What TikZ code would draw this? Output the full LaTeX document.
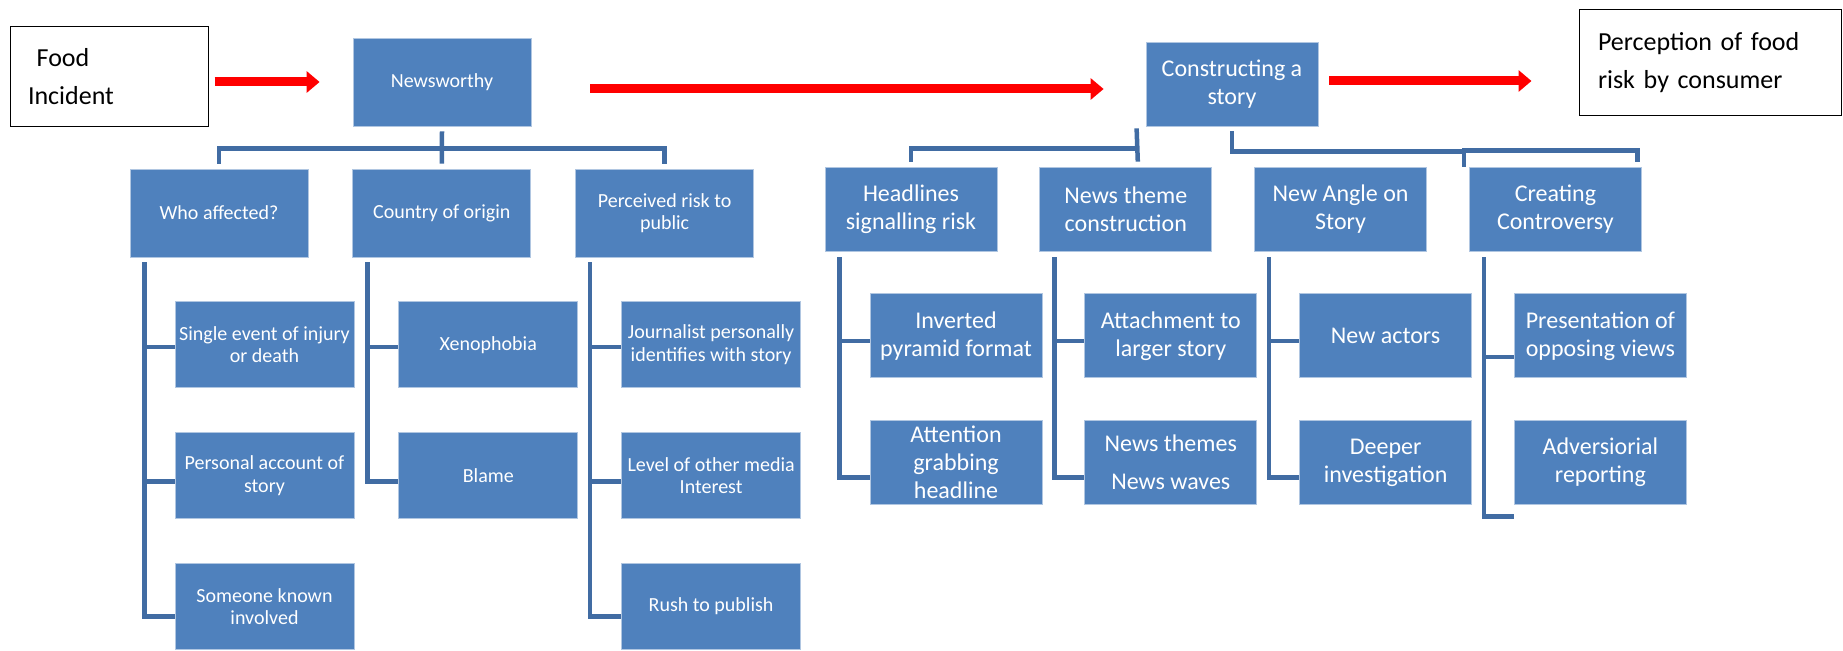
\documentclass[tikz,border=0pt]{standalone}
\usepackage{fontspec}
\setmainfont{Carlito}
\usetikzlibrary{positioning,arrows.meta}
\definecolor{blu}{RGB}{79,129,189}
\definecolor{lnk}{RGB}{65,108,163}

\begin{document}
\begin{tikzpicture}[x=1pt, y=-1pt,
		bx/.style={draw=blu!45!white, line width=0.8pt, fill=blu, text=white, inner sep=0pt, align=center},
		lt/.style={bx, minimum width=178pt, minimum height=88pt, font=\fontsize{20}{22.5}\selectfont},
		ls/.style={lt, minimum width=179pt, minimum height=86pt},
		rt/.style={bx, minimum width=172pt, minimum height=84pt, font=\fontsize{24}{28}\selectfont},
		tx/.style={draw, line width=1pt, inner ysep=0pt, align=left, font=\fontsize{26}{38}\selectfont},
		ln/.style={draw=lnk, line width=4.5pt},
		ra/.style={draw=red, line width=9pt, -{Triangle[length=13pt, width=21pt]}}]
		\useasboundingbox (0,0) rectangle (1843,650);

		\node[tx, inner xsep=18pt, text width=162pt, minimum height=100pt] (food) at (109,77) {\ Food\\Incident};
		\node[tx, inner xsep=19pt, text width=224pt, minimum height=106pt] (perc) at (1710,63) {Perception of food\\risk by consumer};

		\node[lt] (news) at (442,82) {Newsworthy};
		\node[rt] (cons) at (1232,84) {Constructing a\\story};

		\node[lt] (who) at (219,213) {Who affected?};
		\node[lt, right=44pt of who] (cty) {Country of origin};
		\node[lt, right=44pt of cty] (per) {Perceived risk to\\public};

		\node[ls, anchor=north west] (inj) at ([xshift=45pt, yshift=-44pt]who.south west) {Single event of injury\\or death};
		\node[ls, below=44pt of inj] (acc) {Personal account of\\story};
		\node[ls, below=44pt of acc] (knw) {Someone known\\involved};
		\node[ls, anchor=north west] (xen) at ([xshift=46pt, yshift=-44pt]cty.south west) {Xenophobia};
		\node[ls, below=44pt of xen] (blm) {Blame};
		\node[ls, anchor=north west] (jrn) at ([xshift=46pt, yshift=-44pt]per.south west) {Journalist personally\\identifies with story};
		\node[ls, below=44pt of jrn] (lvl) {Level of other media\\Interest};
		\node[ls, below=44pt of lvl] (rsh) {Rush to publish};

		\node[rt] (hl) at (911,209) {Headlines\\signalling risk};
		\node[rt, right=42pt of hl] (nth) {News theme\\construction};
		\node[rt, right=42pt of nth] (ang) {New Angle on\\Story};
		\node[rt, right=42pt of ang] (cc) {Creating\\Controversy};

		\node[rt, anchor=north west] (inv) at ([xshift=45pt, yshift=-42pt]hl.south west) {Inverted\\pyramid format};
		\node[rt, below=42pt of inv] (att) {Attention\\grabbing\\headline};
		\node[rt, anchor=north west] (lrg) at ([xshift=45pt, yshift=-42pt]nth.south west) {Attachment to\\larger story};
		\node[rt, below=42pt of lrg] (wav) {News themes\\[10pt]News waves};
		\node[rt, anchor=north west] (act) at ([xshift=45pt, yshift=-42pt]ang.south west) {New actors};
		\node[rt, below=42pt of act] (dpr) {Deeper\\investigation};
		\node[rt, anchor=north west] (opp) at ([xshift=45pt, yshift=-42pt]cc.south west) {Presentation of\\opposing views};
		\node[rt, below=42pt of opp] (adv) {Adversiorial\\reporting};

		\draw[ra, shorten <=6pt, shorten >=33pt] ([yshift=-5pt]food.east) -- (news.west);
		\draw[ra, shorten <=59pt, shorten >=42pt] ([yshift=-7pt]news.east) -- ([yshift=-5pt]cons.west);
		\draw[ra, shorten <=11pt, shorten >=47pt] ([yshift=3pt]cons.east) -- ([yshift=-18pt]perc.west);

		\draw[ln] ([yshift=-5pt]news.south) -- ([yshift=5pt]cty.north);
		\draw[ln] ([yshift=-22pt]news.south) -| ([yshift=5pt]who.north);
		\draw[ln] ([yshift=-22pt]news.south) -| ([yshift=5pt]per.north);

		\draw[ln] ([xshift=-9pt, yshift=-2pt]cons.south west) -- ([xshift=12pt, yshift=5pt]nth.north);
		\draw[ln] ([xshift=-9pt, yshift=-22pt]cons.south west) -| ([yshift=5pt]hl.north);
		\draw[ln] ([yshift=-5pt]cons.south) |- ([xshift=-5pt, yshift=15pt]cc.north west);
		\draw[ln] ([xshift=-5pt]cc.north west) |- ([xshift=82pt, yshift=16pt]cc.north) -- ([xshift=82pt, yshift=5pt]cc.north);

		\draw[ln] ([xshift=15pt, yshift=-5pt]who.south west) |- ([yshift=-2pt]inj.west);
		\draw[ln] ([xshift=15pt, yshift=-5pt]who.south west) |- ([yshift=-6pt]acc.west);
		\draw[ln] ([xshift=15pt, yshift=-5pt]who.south west) |- ([yshift=-10pt]knw.west);
		\draw[ln] ([xshift=15pt, yshift=-5pt]cty.south west) |- ([yshift=-2pt]xen.west);
		\draw[ln] ([xshift=15pt, yshift=-5pt]cty.south west) |- ([yshift=-6pt]blm.west);
		\draw[ln] ([xshift=15pt, yshift=-5pt]per.south west) |- ([yshift=-2pt]jrn.west);
		\draw[ln] ([xshift=15pt, yshift=-5pt]per.south west) |- ([yshift=-6pt]lvl.west);
		\draw[ln] ([xshift=15pt, yshift=-5pt]per.south west) |- ([yshift=-10pt]rsh.west);

		\draw[ln] ([xshift=15pt, yshift=-6pt]hl.south west) |- ([yshift=-5pt]inv.west);
		\draw[ln] ([xshift=15pt, yshift=-6pt]hl.south west) |- ([yshift=-15pt]att.west);
		\draw[ln] ([xshift=15pt, yshift=-6pt]nth.south west) |- ([yshift=-5pt]lrg.west);
		\draw[ln] ([xshift=15pt, yshift=-6pt]nth.south west) |- ([yshift=-15pt]wav.west);
		\draw[ln] ([xshift=15pt, yshift=-6pt]ang.south west) |- ([yshift=-5pt]act.west);
		\draw[ln] ([xshift=15pt, yshift=-6pt]ang.south west) |- ([yshift=-15pt]dpr.west);
		\draw[ln] ([xshift=15pt, yshift=-6pt]cc.south west) |- ([yshift=-21pt]opp.west);
		\draw[ln] ([xshift=15pt, yshift=-6pt]cc.south west) |- ([yshift=-54pt]adv.west);
	\end{tikzpicture}
\end{document}
